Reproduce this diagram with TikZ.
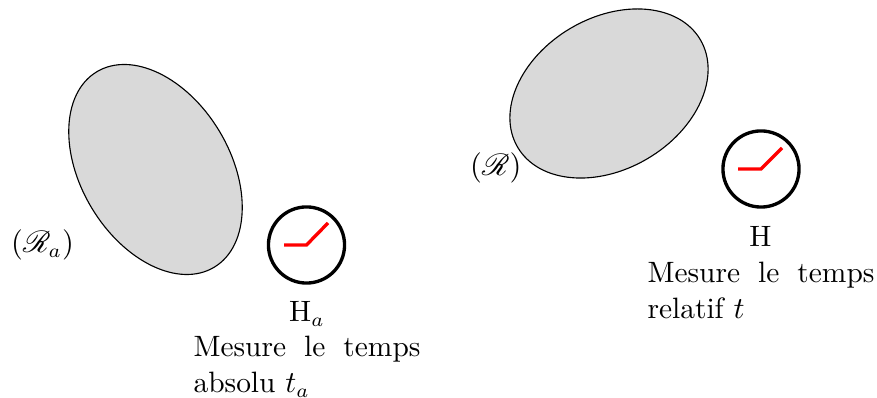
\documentclass[tikz,border=0pt]{standalone}
\usepackage{amsmath,amssymb}
\usepackage{mathrsfs}
\tikzset{
 solide/.style={draw=black,fill=black!15,line width=0.4pt},
 horloge/.style={circle,draw=black,line width=1.2pt,minimum size=27.4pt,inner sep=0pt},
 aiguille/.style={draw=red,line width=1.2pt},
 etiquette/.style={inner sep=0pt,anchor=base},
 bloc/.style={inner sep=0pt,anchor=north west,text width=81.7pt,align=justify},
}
\begin{document}
\begin{tikzpicture}[x=0.36pt,y=0.36pt,font=\fontsize{10.6}{13}\selectfont]
\useasboundingbox (0,-398) rectangle (877,0);
\fill[white] (0,-398) rectangle (877,0);
% left
\path[solide] (155.5,-169.5) ellipse [x radius=114,y radius=74.5,rotate=121];
\node[horloge] (hA) at (306.5,-245) {};
\coordinate (hAa) at (284,-245);
\coordinate (hAb) at (328,-223);
\draw[aiguille] (hAa) -- (hA.center) -- (hAb);
\node[etiquette,anchor=base west] (rA) at (10.5,-253) {$(\mathscr{R}_a)$};
\node[etiquette] (lA) at (307,-322) {H$_a$};
\node[bloc] (tA) at (193,-335.5) {Mesure le temps absolu $t_a$\par};
% right
\path[solide] (609,-93.5) ellipse [x radius=106,y radius=75.7,rotate=30.5];
\node[horloge] (hR) at (761,-169) {};
\coordinate (hRa) at (738,-169);
\coordinate (hRb) at (782,-148);
\draw[aiguille] (hRa) -- (hR.center) -- (hRb);
\node[etiquette,anchor=base west] (rR) at (469.5,-175.5) {$(\mathscr{R})$};
\node[etiquette] (lR) at (760.5,-247) {H};
\node[bloc] (tR) at (647,-261.5) {Mesure le temps relatif $t$\par};
\end{tikzpicture}
\end{document}
